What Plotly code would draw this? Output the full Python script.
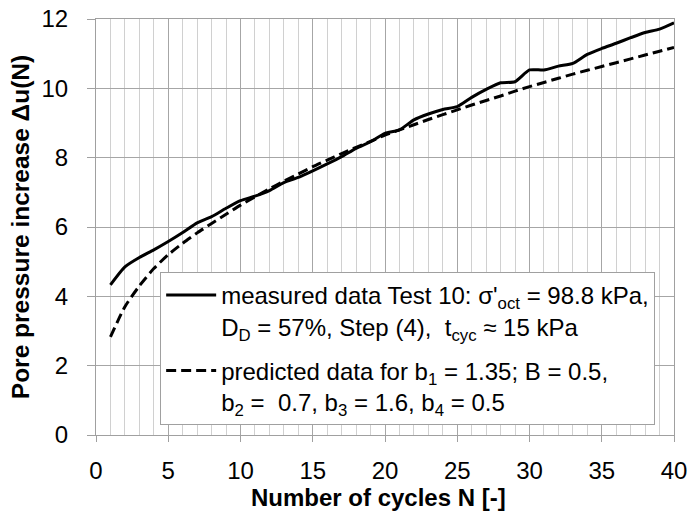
import plotly.graph_objects as go

cycles = list(range(1, 41))
measured = [4.33, 4.85, 5.12, 5.34, 5.58, 5.84, 6.12, 6.30, 6.54, 6.76,
            6.89, 7.05, 7.28, 7.43, 7.62, 7.82, 8.03, 8.27, 8.46, 8.70,
            8.80, 9.09, 9.26, 9.39, 9.47, 9.74, 9.97, 10.16, 10.19, 10.53,
            10.53, 10.64, 10.72, 10.98, 11.15, 11.30, 11.46, 11.61, 11.71, 11.89]
predicted = [2.83, 3.70, 4.30, 4.80, 5.20, 5.53, 5.83, 6.10, 6.37, 6.63,
             6.87, 7.10, 7.32, 7.53, 7.74, 7.93, 8.12, 8.30, 8.47, 8.65,
             8.80, 8.95, 9.10, 9.24, 9.38, 9.52, 9.65, 9.78, 9.92, 10.05,
             10.17, 10.29, 10.41, 10.52, 10.63, 10.74, 10.85, 10.96, 11.07, 11.18]

name_measured = ("measured data Test 10: σ'<sub>oct</sub> = 98.8 kPa,<br>"
                 "D<sub>D</sub> = 57%, Step (4),&nbsp; t<sub>cyc</sub> ≈ 15 kPa&nbsp;&nbsp;")
name_predicted = ("predicted data for b<sub>1</sub> = 1.35; B = 0.5,<br>"
                  "b<sub>2</sub> =&nbsp; 0.7, b<sub>3</sub> = 1.6, b<sub>4</sub> = 0.5")

FONT = "Liberation Sans, Arial, sans-serif"

fig = go.Figure()
fig.add_trace(go.Scatter(x=cycles, y=measured, mode="lines", name=name_measured,
                         legendgroup="a",
                         line=dict(color="black", width=3, shape="spline", smoothing=0.6)))
fig.add_trace(go.Scatter(x=cycles, y=predicted, mode="lines", name=name_predicted,
                         legendgroup="b",
                         line=dict(color="black", width=3, dash="10px,5px", shape="spline", smoothing=0.6)))

fig.update_layout(
    width=692, height=520,
    margin=dict(l=96, r=18, t=19, b=85),
    paper_bgcolor="white", plot_bgcolor="white",
    font=dict(family=FONT, color="black", size=22),
    showlegend=True,
    legend=dict(x=0.111, y=0.392, xanchor="left", yanchor="top",
                bgcolor="white", bordercolor="#a0a0a0", borderwidth=1,
                font=dict(size=24, family=FONT), traceorder="grouped",
                tracegroupgap=10, itemwidth=50, valign="top"),
    xaxis=dict(range=[0, 40], tickmode="linear", tick0=0, dtick=5,
               automargin=False,
               showgrid=True, gridcolor="#a6a6a6", gridwidth=1,
               minor=dict(tickmode="linear", tick0=0, dtick=1, showgrid=True,
                          gridcolor="#d0d0d0", gridwidth=1),
               ticks="outside", ticklen=6, tickcolor="#a0a0a0",
               ticklabelstandoff=8,
               showline=True, linecolor="#a0a0a0", linewidth=1, mirror=True,
               zeroline=False,
               tickfont=dict(size=24),
               title=dict(text="<b>Number of cycles N [-]</b>&nbsp;&nbsp;",
                          font=dict(size=24), standoff=6)),
    yaxis=dict(range=[0, 12], tickmode="linear", tick0=0, dtick=2,
               automargin=False,
               showgrid=True, gridcolor="#a6a6a6", gridwidth=1,
               ticks="outside", ticklen=8, tickcolor="#a0a0a0",
               ticklabelstandoff=14,
               showline=True, linecolor="#a0a0a0", linewidth=1, mirror=True,
               zeroline=False,
               tickfont=dict(size=24),
               title=dict(text="<b>Pore pressure increase Δu(N)</b>", font=dict(size=24.5), standoff=4)),
)

fig.write_html("out.html")
